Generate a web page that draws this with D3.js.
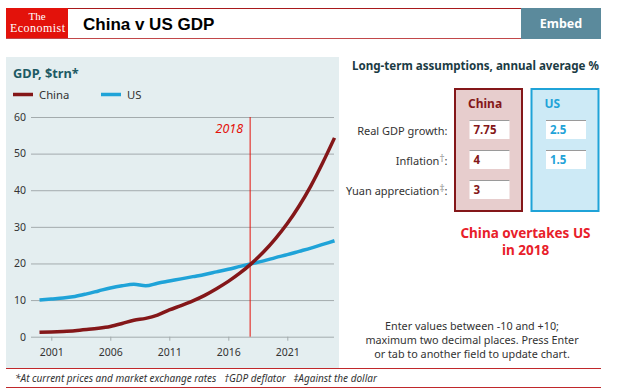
<!DOCTYPE html>
<html><head><meta charset="utf-8">
<script src="https://cdn.jsdelivr.net/npm/d3@7"></script>
<style>
html,body{margin:0;padding:0;background:#fff;}
svg{display:block;}
text{font-family:"Noto Sans",sans-serif;}
</style></head>
<body><svg id="c" width="619" height="392"></svg>
<script>
// ---- data ----
const years = [2000,2001,2002,2003,2004,2005,2006,2007,2008,2009,2010,2011,2012,2013,2014,2015,2016,2017,2018,2019,2020,2021,2022,2023,2024,2025];
const china = [1.2,1.3,1.45,1.65,1.95,2.3,2.8,3.6,4.5,5.0,5.9,7.3,8.5,9.8,11.3,13.1,15.1,17.4,20.1,23.2,26.8,30.9,35.7,41.2,47.5,54.3];
const us    = [10.0,10.3,10.6,11.0,11.7,12.5,13.3,13.9,14.3,13.9,14.6,15.2,15.8,16.4,17.0,17.7,18.4,19.2,19.95,20.7,21.6,22.4,23.3,24.2,25.2,26.2];
const xTicks = [2001,2006,2011,2016,2021];
const yTicks = [0,10,20,30,40,50,60];
const crossYear = 2017.85;
const crossLabel = "2018";
const seriesNames = ["China","US"];
const rowLabels = ["Real GDP growth:","Inflation","Yuan appreciation"];
const rowMarks = ["","†","‡"];
const chinaInputs = ["7.75","4","3"];
const usInputs = ["2.5","1.5"];

const RED="#e3120b", CHINA="#841719", USC="#1fa3d8";
const svg = d3.select("#c");

// ---- header ----
svg.append("rect").attr("x",6).attr("y",8).attr("width",62).attr("height",31).attr("fill",RED);
const logo = svg.append("text").attr("text-anchor","middle").attr("fill","#fff")
  .style("font-family","'Liberation Serif',serif");
logo.append("tspan").attr("x",37).attr("y",20).style("font-size","11px").text("The");
logo.append("tspan").attr("x",37.5).attr("y",31.5).attr("textLength",55).style("font-size","12px").text("Economist");
svg.append("line").attr("x1",68).attr("x2",521).attr("y1",8.5).attr("y2",8.5).attr("stroke","#a8191c");
svg.append("line").attr("x1",6).attr("x2",601).attr("y1",38.5).attr("y2",38.5).attr("stroke","#c2484a");
svg.append("text").attr("x",83).attr("y",29.5).attr("fill","#000")
  .style("font-family","'Liberation Sans',Arial,sans-serif").style("font-weight","bold").style("font-size","17px").text("China v US GDP");
svg.append("rect").attr("x",521).attr("y",8).attr("width",80).attr("height",31).attr("fill","#5b8a9c");
svg.append("text").attr("x",561).attr("y",28).attr("text-anchor","middle").attr("fill","#fff")
  .style("font-weight","bold").style("font-size","12.5px").text("Embed");

// ---- chart panel ----
svg.append("rect").attr("x",6).attr("y",57).attr("width",333).attr("height",311).attr("fill","#e4eef0");
svg.append("text").attr("x",13).attr("y",78).attr("fill","#1d5a64")
  .style("font-weight","bold").style("font-size","12.8px").text("GDP, $trn*");
const legX=[13,101];
seriesNames.forEach((n,i)=>{
  svg.append("line").attr("x1",legX[i]).attr("x2",legX[i]+20).attr("y1",94.5).attr("y2",94.5)
    .attr("stroke",i?USC:CHINA).attr("stroke-width",3.5);
  svg.append("text").attr("x",legX[i]+26).attr("y",98.5).attr("fill","#333").style("font-size","11.3px").text(n);
});

const x = d3.scaleLinear().domain([2000,2025]).range([39.5,334.5]);
const y = d3.scaleLinear().domain([0,60]).range([336.7,117]);

const yAxis = svg.append("g").attr("transform","translate(31,0)")
  .call(d3.axisLeft(y).tickValues(yTicks).tickSize(-303).tickPadding(5));
yAxis.select(".domain").remove();
yAxis.selectAll(".tick line").attr("stroke","#a3abad");
yAxis.selectAll(".tick text").attr("fill","#333").style("font-family","'Noto Sans',sans-serif").style("font-size","10.5px");

const xAxis = svg.append("g").attr("transform",`translate(0,${y(0)})`)
  .call(d3.axisBottom(x).tickValues(xTicks).tickFormat(d3.format("d")).tickSize(4).tickPadding(8));
xAxis.select(".domain").remove();
xAxis.selectAll(".tick line").attr("stroke","#a3abad");
xAxis.selectAll(".tick text").attr("fill","#333").style("font-family","'Noto Sans',sans-serif").style("font-size","10.5px");

svg.append("line").attr("x1",x(crossYear)).attr("x2",x(crossYear)).attr("y1",y(60)).attr("y2",y(0))
  .attr("stroke",RED).attr("stroke-width",1);
svg.append("text").attr("x",x(crossYear)-7).attr("y",132.5).attr("text-anchor","end").attr("fill",RED)
  .style("font-style","italic").style("font-size","12.5px").text(crossLabel);

const line = d3.line().x((d,i)=>x(years[i])).y(d=>y(d)).curve(d3.curveMonotoneX);
svg.append("path").datum(us).attr("d",line).attr("fill","none").attr("stroke",USC).attr("stroke-width",3.5);
svg.append("path").datum(china).attr("d",line).attr("fill","none").attr("stroke",CHINA).attr("stroke-width",3.5);

// ---- footer ----
svg.append("line").attr("x1",6).attr("x2",601).attr("y1",368.5).attr("y2",368.5).attr("stroke","#c0282b");
svg.append("line").attr("x1",6).attr("x2",601).attr("y1",387.5).attr("y2",387.5).attr("stroke","#c0282b");
svg.append("text").attr("x",15).attr("y",381.5).attr("fill","#333").style("font-style","italic").style("font-size","10px")
  .text("*At current prices and market exchange rates   †GDP deflator   ‡Against the dollar").attr("xml:space","preserve");

// ---- right panel ----
svg.append("text").attr("x",475.5).attr("y",70).attr("text-anchor","middle").attr("fill","#1b3b44")
  .style("font-weight","bold").style("font-size","11.6px").text("Long-term assumptions, annual average %");
svg.append("rect").attr("x",455).attr("y",89).attr("width",67).attr("height",122).attr("fill","#e7cdcd").attr("stroke",CHINA).attr("stroke-width",2);
svg.append("rect").attr("x",531.5).attr("y",89).attr("width",67).attr("height",122).attr("fill","#cdeaf6").attr("stroke",USC).attr("stroke-width",2);
svg.append("text").attr("x",468).attr("y",108).attr("fill",CHINA).style("font-weight","bold").style("font-size","12px").text("China");
svg.append("text").attr("x",544.5).attr("y",108).attr("fill",USC).style("font-weight","bold").style("font-size","12px").text("US");

const rowY = [120,150,180];
rowLabels.forEach((l,i)=>{
  const t = svg.append("text").attr("x",447.5).attr("y",rowY[i]+15).attr("text-anchor","end").attr("fill","#333").style("font-size","11px");
  t.append("tspan").text(l);
  if(rowMarks[i]){
    t.append("tspan").attr("dy",-3).attr("fill","#999").style("font-size","10px").text(rowMarks[i]);
    t.append("tspan").attr("dy",3).text(":");
  }
});
function inputBox(x0,i,val,col){
  svg.append("rect").attr("x",x0).attr("y",rowY[i]).attr("width",40).attr("height",19).attr("fill","#fff");
  svg.append("line").attr("x1",x0).attr("x2",x0+40).attr("y1",rowY[i]+0.5).attr("y2",rowY[i]+0.5).attr("stroke","#9a9a9a");
  svg.append("text").attr("x",x0+4).attr("y",rowY[i]+14).attr("fill",col).style("font-weight","bold").style("font-size","11.5px").text(val);
}
chinaInputs.forEach((v,i)=>inputBox(469.5,i,v,CHINA));
usInputs.forEach((v,i)=>inputBox(546,i,v,USC));

svg.append("text").attr("x",525.5).attr("y",238).attr("text-anchor","middle").attr("fill","#e8202a")
  .style("font-weight","bold").style("font-size","13.5px").text("China overtakes US");
svg.append("text").attr("x",525.5).attr("y",254.5).attr("text-anchor","middle").attr("fill","#e8202a")
  .style("font-weight","bold").style("font-size","13.5px").text("in 2018");

const note = ["Enter values between -10 and +10;","maximum two decimal places. Press Enter","or tab to another field to update chart."];
note.forEach((s,i)=>svg.append("text").attr("x",472).attr("y",330+i*14).attr("text-anchor","middle").attr("fill","#333").style("font-size","10.8px").text(s));
</script></body></html>
